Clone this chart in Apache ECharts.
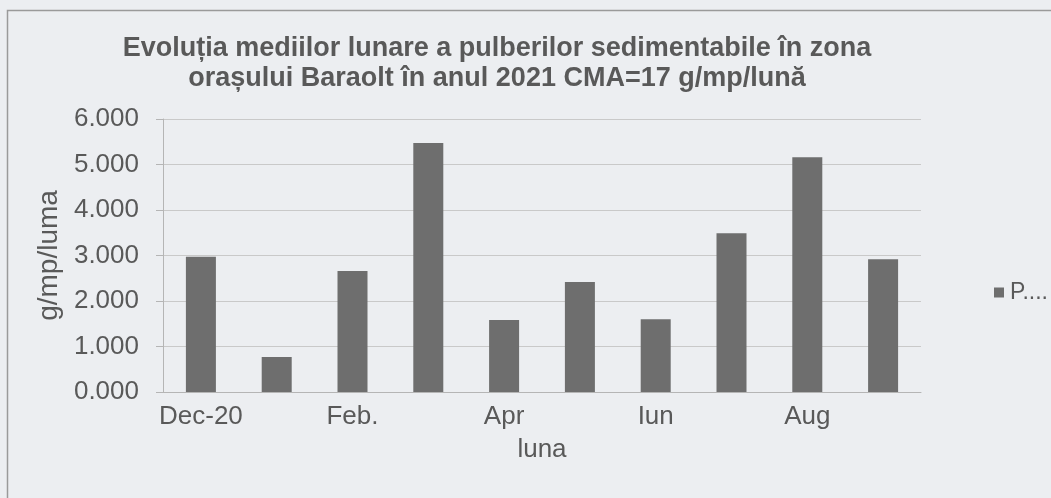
<!DOCTYPE html>
<html>
<head>
<meta charset="utf-8">
<script src="https://cdn.jsdelivr.net/npm/echarts@6/dist/echarts.min.js"></script>
<style>
  html, body { margin: 0; padding: 0; background: #eceef1; }
  #chart { width: 1051px; height: 498px; }
</style>
</head>
<body>
<div id="chart"></div>
<script>
// luna (months), Dec 2020 - Sep 2021
const months = ['Dec-20', 'Ian', 'Feb.', 'Mar', 'Apr', 'Mai', 'Iun', 'Iul', 'Aug', 'Sep']
const values = [2.97, 0.77, 2.66, 5.47, 1.58, 2.42, 1.60, 3.49, 5.16, 2.92]
const seriesName = 'P....'

const textColor = '#595959'
const font = 'Liberation Sans, Arial, sans-serif'

const chart = echarts.init(document.getElementById('chart'), null, { renderer: 'canvas' })

chart.setOption({
    backgroundColor: '#eceef1',
    animation: false,
    title: {
        text: 'Evoluția mediilor lunare a pulberilor sedimentabile în zona\norașului Baraolt în anul 2021 CMA=17 g/mp/lună',
        left: 492,
        top: 29,
        textAlign: 'center',
        textStyle: {
            color: textColor,
            fontFamily: font,
            fontWeight: 'bold',
            fontSize: 27,
            lineHeight: 30,
        },
    },
    graphic: [{
        type: 'rect',
        shape: { x: 7.5, y: 10.5, width: 1200, height: 600 },
        style: { fill: 'none', stroke: '#9a9a9a', lineWidth: 1.5 },
        silent: true,
    }],
    legend: {
        show: true,
        left: 989,
        top: 276,
        orient: 'vertical',
        itemWidth: 10,
        itemHeight: 10,
        itemGap: 4,
        icon: 'rect',
        textStyle: { color: textColor, fontFamily: font, fontSize: 23, padding: [0, 0, 0, 1] },
        data: [seriesName],
    },
    grid: {
        left: 163,
        right: 130,
        top: 119,
        bottom: 106,
    },
    xAxis: {
        type: 'category',
        data: months,
        name: 'luna',
        nameLocation: 'middle',
        nameGap: 45,
        nameTextStyle: { color: textColor, fontFamily: font, fontSize: 26 },
        axisLine: { lineStyle: { color: '#b5b5b5', width: 1 } },
        axisTick: { show: false },
        axisLabel: {
            interval: 1,
            color: textColor,
            fontFamily: font,
            fontSize: 26,
            margin: 12,
        },
    },
    yAxis: {
        type: 'value',
        min: 0,
        max: 6,
        interval: 1,
        name: 'g/mp/luma',
        nameLocation: 'middle',
        nameGap: 99,
        nameTextStyle: { color: textColor, fontFamily: font, fontSize: 28 },
        axisLine: { show: true, lineStyle: { color: '#b5b5b5', width: 1 } },
        axisTick: { show: true, length: 7, lineStyle: { color: '#b5b5b5' } },
        splitLine: { lineStyle: { color: '#c9c9c9', width: 1 } },
        axisLabel: {
            color: textColor,
            fontFamily: font,
            fontSize: 26,
            margin: 24,
            formatter: (v) => v.toFixed(3),
        },
    },
    series: [{
        name: seriesName,
        type: 'bar',
        data: values,
        barWidth: 30,
        itemStyle: { color: '#6e6e6e' },
    }],
})
</script>
</body>
</html>
